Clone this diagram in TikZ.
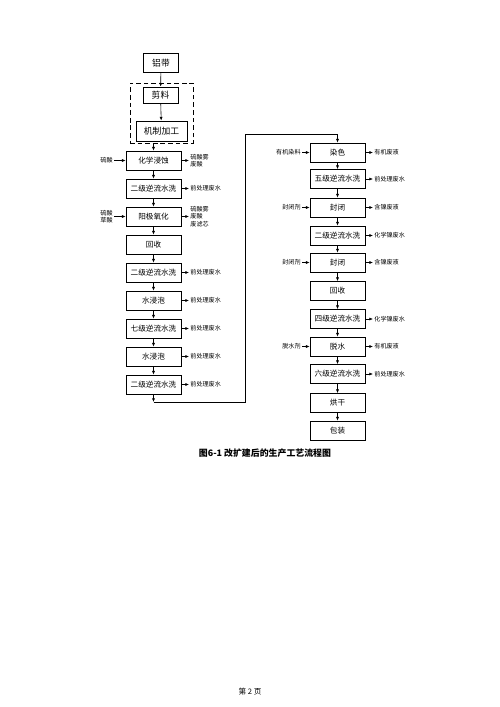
\documentclass[tikz,border=0pt]{standalone}
\usepackage{fontspec}
\usepackage{tikz}
\usetikzlibrary{arrows.meta}
\newfontfamily\cjk{Noto Sans CJK SC}

\tikzset{
  proc/.style={draw,line width=0.6pt,minimum width=16.5mm,minimum height=5.7mm,inner sep=0pt,font=\cjk\fontsize{6.5}{7}\selectfont},
  topbox/.style={draw,line width=0.7pt,minimum height=5.4mm,inner sep=0pt,font=\cjk\fontsize{7.5}{8}\selectfont},
  lab/.style={inner sep=1pt,align=left,font=\cjk\fontsize{5.2}{6.4}\selectfont},
  arr/.style={-{Latex[length=3.2pt,width=2.6pt]},line width=0.5pt},
}

\begin{document}
\begin{tikzpicture}[x=0.3mm,y=-0.3mm]
  \useasboundingbox (0,0) rectangle (500,707);
  % top part
  \node[topbox,minimum width=10.5mm,minimum height=5.7mm] (lv) at (161,63) {铝带};
  \node[topbox,minimum width=10.5mm,minimum height=4.8mm] (jl) at (160.5,95) {剪料};
  \node[topbox,minimum width=15.3mm,minimum height=6mm] (jz) at (161.5,131) {机制加工};
  \node[draw,line width=0.8pt,dash pattern=on 4pt off 2.5pt,minimum width=18.9mm,minimum height=18mm] (jg) at (161.5,113) {};
  \draw[arr] (lv) -- (jl);
  \draw[arr] (jl) -- (jz);

  % left column
  \node[proc] (hx) at (153.5,160.5) {化学浸蚀};
  \node[proc] (sx1) at (153.5,188.5) {二级逆流水洗};
  \node[proc] (yj) at (153.5,216.5) {阳极氧化};
  \node[proc] (hs1) at (153.5,244.5) {回收};
  \node[proc] (sx2) at (153.5,272.5) {二级逆流水洗};
  \node[proc] (jp1) at (153.5,300.5) {水浸泡};
  \node[proc] (sx3) at (153.5,328.5) {七级逆流水洗};
  \node[proc] (jp2) at (153.5,356.5) {水浸泡};
  \node[proc] (sx4) at (153.5,384.5) {二级逆流水洗};
  \draw[arr] (jg.south -| hx.north) -- (hx.north);
  \foreach \a/\b in {hx/sx1,sx1/yj,yj/hs1,hs1/sx2,sx2/jp1,jp1/sx3,sx3/jp2,jp2/sx4}
    \draw[arr] (\a) -- (\b);

  \node[lab,anchor=east] (in1) at (114,160.5) {硫酸};
  \node[lab,anchor=east] (in2) at (114,216.5) {硫酸\\草酸};
  \draw[arr] (in1) -- (hx);
  \draw[arr] (in2) -- (yj);

  \node[lab,anchor=west] (out1) at (189,160.5) {硫酸雾\\废酸};
  \node[lab,anchor=west] (out2) at (189,188.5) {前处理废水};
  \node[lab,anchor=west] (out3) at (189,216.5) {硫酸雾\\废酸\\废滤芯};
  \node[lab,anchor=west] (out4) at (189,272.5) {前处理废水};
  \node[lab,anchor=west] (out5) at (189,300.5) {前处理废水};
  \node[lab,anchor=west] (out6) at (189,328.5) {前处理废水};
  \node[lab,anchor=west] (out7) at (189,356.5) {前处理废水};
  \node[lab,anchor=west] (out8) at (189,384.5) {前处理废水};
  \foreach \a/\b in {hx/out1,sx1/out2,yj/out3,sx2/out4,jp1/out5,sx3/out6,jp2/out7,sx4/out8}
    \draw[arr] (\a) -- (\b);

  % right column
  \node[proc] (rs) at (337.5,152.5) {染色};
  \node[proc] (wj) at (337.5,179) {五级逆流水洗};
  \node[proc] (fb1) at (337.5,207.5) {封闭};
  \node[proc] (ej) at (337.5,235.5) {二级逆流水洗};
  \node[proc] (fb2) at (337.5,262.5) {封闭};
  \node[proc] (hs2) at (337.5,291) {回收};
  \node[proc] (sj) at (337.5,319) {四级逆流水洗};
  \node[proc] (ts) at (337.5,346.5) {脱水};
  \node[proc] (lj) at (337.5,374) {六级逆流水洗};
  \node[proc] (hg) at (337.5,403) {烘干};
  \node[proc] (bz) at (337.5,430.5) {包装};
  \foreach \a/\b in {rs/wj,wj/fb1,fb1/ej,ej/fb2,fb2/hs2,hs2/sj,sj/ts,ts/lj,lj/hg,hg/bz}
    \draw[arr] (\a) -- (\b);

  \node[lab,anchor=east] (rin1) at (302,152.5) {有机染料};
  \node[lab,anchor=east] (rin2) at (302,207.5) {封闭剂};
  \node[lab,anchor=east] (rin3) at (302,262.5) {封闭剂};
  \node[lab,anchor=east] (rin4) at (302,346.5) {脱水剂};
  \foreach \a/\b in {rin1/rs,rin2/fb1,rin3/fb2,rin4/ts}
    \draw[arr] (\a) -- (\b);

  \node[lab,anchor=west] (rout1) at (373,152.5) {有机废液};
  \node[lab,anchor=west] (rout2) at (373,179) {前处理废水};
  \node[lab,anchor=west] (rout3) at (373,207.5) {含镍废液};
  \node[lab,anchor=west] (rout4) at (373,235.5) {化学镍废水};
  \node[lab,anchor=west] (rout5) at (373,262.5) {含镍废液};
  \node[lab,anchor=west] (rout6) at (373,319) {化学镍废水};
  \node[lab,anchor=west] (rout7) at (373,346.5) {有机废液};
  \node[lab,anchor=west] (rout8) at (373,374) {前处理废水};
  \foreach \a/\b in {rs/rout1,wj/rout2,fb1/rout3,ej/rout4,fb2/rout5,sj/rout6,ts/rout7,lj/rout8}
    \draw[arr] (\a) -- (\b);

  % link between the columns
  \coordinate (turnA) at (153.5,402);
  \coordinate (turnB) at (245,134);
  \draw[arr] (sx4) -- (turnA);
  \draw[arr] (turnA) -| (turnB) -| (rs.north);

  % caption and page number
  \node[font=\cjk\bfseries\fontsize{7.6}{9}\selectfont] (cap) at (265,453) {图6-1\ 改扩建后的生产工艺流程图};
  \node[font=\cjk\fontsize{6.5}{8}\selectfont] (pg) at (250,692) {第 2 页};
\end{tikzpicture}
\end{document}
